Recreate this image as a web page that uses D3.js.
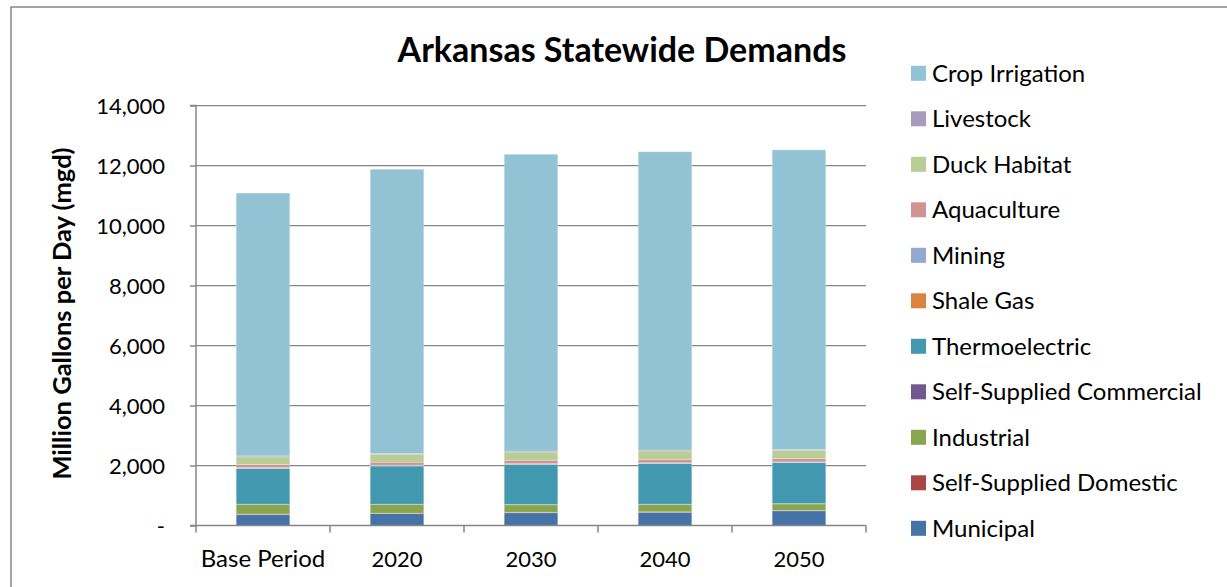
<!DOCTYPE html>
<html>
<head>
<meta charset="utf-8">
<script src="https://cdn.jsdelivr.net/npm/d3@7"></script>
<style>
  html, body { margin: 0; padding: 0; background: #fff; }
  svg text { font-family: Lato, "Open Sans", sans-serif; fill: #000; }
</style>
</head>
<body>
<svg id="chart" width="1227" height="587"></svg>
<script>
// Arkansas statewide water demands by sector (million gallons per day)
const categories = ["Base Period", "2020", "2030", "2040", "2050"];

// Series listed bottom-to-top in stack order
const seriesNames = [
  "Municipal", "Self-Supplied Domestic", "Industrial", "Self-Supplied Commercial",
  "Thermoelectric", "Shale Gas", "Mining", "Aquaculture", "Duck Habitat",
  "Livestock", "Crop Irrigation"
];

const municipal      = [360, 395, 425, 440, 490];
const selfDomestic   = [20, 15, 15, 15, 15];
const industrial     = [320, 290, 250, 245, 215];
const selfCommercial = [10, 10, 10, 10, 10];
const thermoelectric = [1190, 1275, 1340, 1355, 1365];
const shaleGas       = [10, 5, 5, 5, 5];
const mining         = [20, 20, 20, 20, 20];
const aquaculture    = [105, 100, 110, 115, 110];
const duckHabitat    = [255, 265, 275, 280, 275];
const livestock      = [30, 30, 30, 30, 30];
const cropIrrigation = [8760, 9470, 9895, 9945, 9985];

const yTicks = [0, 2000, 4000, 6000, 8000, 10000, 12000, 14000];

const seriesValues = [
  municipal, selfDomestic, industrial, selfCommercial, thermoelectric,
  shaleGas, mining, aquaculture, duckHabitat, livestock, cropIrrigation
];

const colors = [
  "#4572A7", "#AA4643", "#89A54E", "#71588F", "#4198AF",
  "#DB843D", "#93A9CF", "#D19392", "#B9CD96", "#A99BBD", "#92C3D5"
];

// Build row objects for d3.stack
const rows = categories.map((c, i) => {
  const r = { category: c };
  seriesNames.forEach((s, j) => { r[s] = seriesValues[j][i]; });
  return r;
});

const svg = d3.select("#chart");

// Outer chart border
svg.append("path")
  .attr("d", "M11,587 V7 H1227")
  .attr("fill", "none")
  .attr("stroke", "#868686")
  .attr("stroke-width", 1.5);

const plot = { left: 196, right: 866, top: 105.5, bottom: 525.5 };

const x = d3.scaleBand()
  .domain(categories)
  .range([plot.left, plot.right])
  .paddingInner(0.6)
  .paddingOuter(0.3);

const y = d3.scaleLinear()
  .domain([0, 14000])
  .range([plot.bottom, plot.top]);

// Horizontal gridlines
svg.append("g")
  .selectAll("line")
  .data(yTicks.filter(t => t > 0))
  .join("line")
  .attr("x1", plot.left)
  .attr("x2", plot.right)
  .attr("y1", d => y(d))
  .attr("y2", d => y(d))
  .attr("stroke", "#868686")
  .attr("stroke-width", 1.25);

// Stacked bars
const stack = d3.stack().keys(seriesNames);
const layers = stack(rows);

svg.append("g")
  .selectAll("g")
  .data(layers)
  .join("g")
  .attr("fill", (d, i) => colors[i])
  .selectAll("rect")
  .data(d => d)
  .join("rect")
  .attr("x", d => x(d.data.category))
  .attr("width", x.bandwidth())
  .attr("y", d => y(d[1]))
  .attr("height", d => y(d[0]) - y(d[1]))
  .attr("stroke", "rgba(255,255,255,0.35)")
  .attr("stroke-width", 0.75);

// Y axis
const yAxis = d3.axisLeft(y)
  .tickValues(yTicks)
  .tickSize(6)
  .tickPadding(25)
  .tickFormat(d => d === 0 ? "-" : d3.format(",")(d));

const gy = svg.append("g")
  .attr("transform", `translate(${plot.left},0)`)
  .call(yAxis);
gy.select(".domain").attr("stroke", "#868686").attr("stroke-width", 1.5)
  .attr("d", `M-6,${plot.top}H0V${plot.bottom}H-6`);
gy.selectAll(".tick line").attr("stroke", "#868686").attr("stroke-width", 1.5);
gy.selectAll(".tick text")
  .style("font-size", "22px")
  .attr("dy", "0.36em");

// X axis with ticks between categories
const gx = svg.append("g");
gx.append("line")
  .attr("x1", plot.left).attr("x2", plot.right)
  .attr("y1", plot.bottom).attr("y2", plot.bottom)
  .attr("stroke", "#868686").attr("stroke-width", 1.5);
const boundaries = d3.range(categories.length + 1).map(i => plot.left + i * (plot.right - plot.left) / categories.length);
gx.selectAll("line.tick")
  .data(boundaries)
  .join("line")
  .attr("class", "tick")
  .attr("x1", d => d).attr("x2", d => d)
  .attr("y1", plot.bottom).attr("y2", plot.bottom + 7)
  .attr("stroke", "#868686").attr("stroke-width", 1.5);
gx.selectAll("text")
  .data(categories)
  .join("text")
  .attr("x", d => x(d) + x.bandwidth() / 2)
  .attr("y", 567)
  .attr("text-anchor", "middle")
  .style("font-size", d => /^\d+$/.test(d) ? "22px" : "24px")
  .text(d => d);

// Y axis title
svg.append("text")
  .attr("transform", `translate(71,${(plot.top + plot.bottom) / 2 - 2}) rotate(-90)`)
  .attr("text-anchor", "middle")
  .style("font-size", "25.5px")
  .style("font-weight", "bold")
  .text("Million Gallons per Day (mgd)");

// Chart title
svg.append("text")
  .attr("x", 622)
  .attr("y", 62)
  .attr("text-anchor", "middle")
  .style("font-size", "34px")
  .style("font-weight", "bold")
  .text("Arkansas Statewide Demands");

// Legend, top entry is the top of the stack
const legendOrder = seriesNames.map((s, i) => ({ name: s, color: colors[i] })).reverse();
const legend = svg.append("g")
  .selectAll("g")
  .data(legendOrder)
  .join("g")
  .attr("transform", (d, i) => `translate(911,${73.3 + i * 45.5})`);
legend.append("rect")
  .attr("x", 0).attr("y", -7.5)
  .attr("width", 15).attr("height", 15)
  .attr("fill", d => d.color);
legend.append("text")
  .attr("x", 21)
  .attr("y", 0)
  .attr("dy", "0.36em")
  .style("font-size", "24px")
  .text(d => d.name);
</script>
</body>
</html>
